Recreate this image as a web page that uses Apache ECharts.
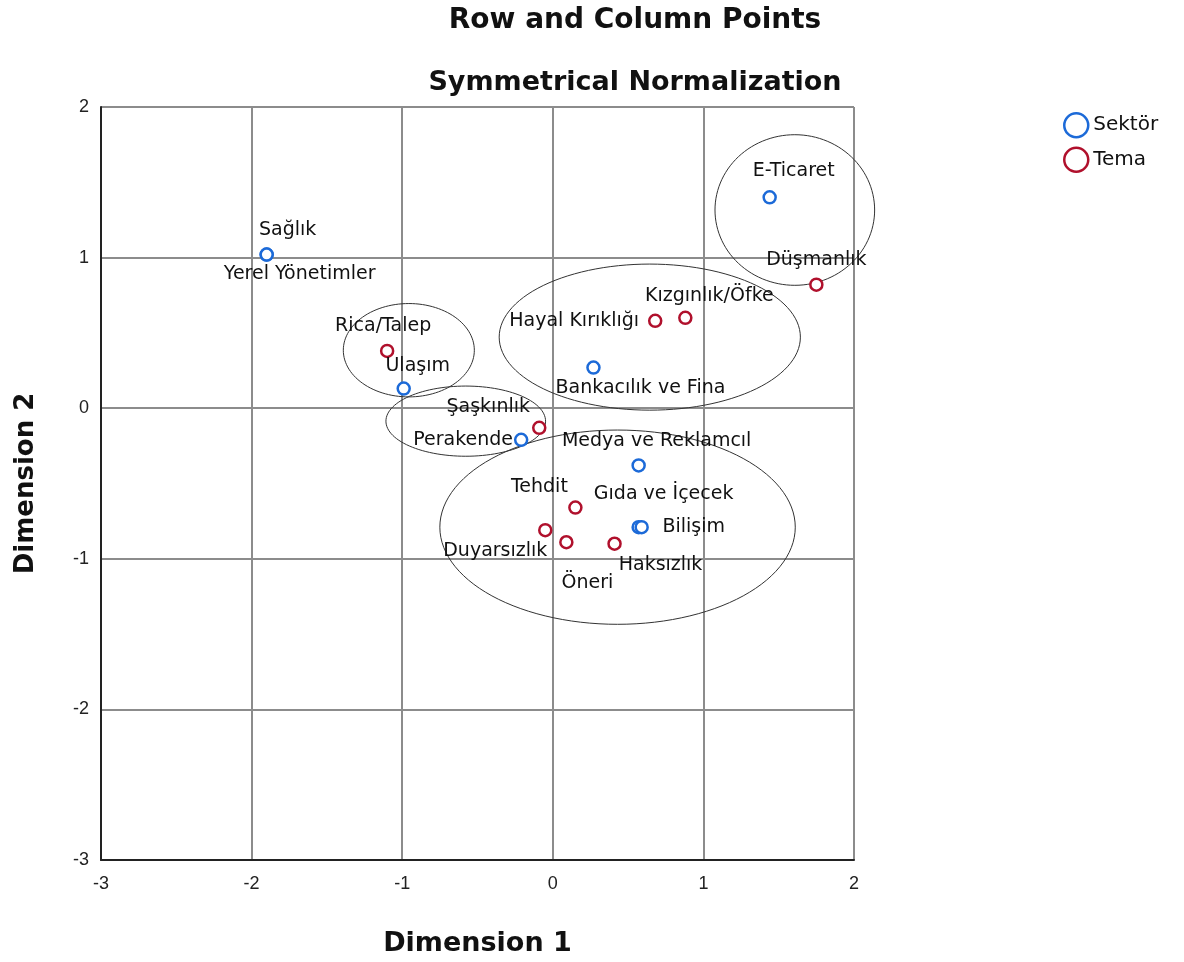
<!DOCTYPE html>
<html>
<head>
<meta charset="utf-8">
<script src="https://cdn.jsdelivr.net/npm/echarts@6/dist/echarts.min.js"></script>
<style>
  html, body { margin: 0; padding: 0; background: #fff; }
  #chart { width: 1184px; height: 962px; }
</style>
</head>
<body>
<div id="chart"></div>
<script>
// Row points (sectors)
const sektorNames = ['Sağlık', 'Yerel Yönetimler', 'Ulaşım', 'Perakende', 'E-Ticaret',
  'Bankacılık ve Fina', 'Medya ve Reklamcıl', 'Gıda ve İçecek', 'Bilişim'];
const sektorDim1 = [-1.90, -1.90, -0.99, -0.21, 1.44, 0.27, 0.57, 0.57, 0.59];
const sektorDim2 = [1.02, 1.02, 0.13, -0.21, 1.40, 0.27, -0.38, -0.79, -0.79];

// Column points (themes)
const temaNames = ['Rica/Talep', 'Şaşkınlık', 'Hayal Kırıklığı', 'Kızgınlık/Öfke', 'Düşmanlık',
  'Tehdit', 'Duyarsızlık', 'Öneri', 'Haksızlık'];
const temaDim1 = [-1.10, -0.09, 0.68, 0.88, 1.75, 0.15, -0.05, 0.09, 0.41];
const temaDim2 = [0.38, -0.13, 0.58, 0.60, 0.82, -0.66, -0.81, -0.89, -0.90];

// Axis ticks
const axisTicksX = [-3, -2, -1, 0, 1, 2];
const axisTicksY = [-3, -2, -1, 0, 1, 2];

// Hand-drawn grouping ellipses: centre and radii in dimension units
const groupCx = [-0.956, -0.578, 0.644, 1.607, 0.43];
const groupCy = [0.385, -0.086, 0.472, 1.316, -0.79];
const groupRx = [0.435, 0.53, 1.0, 0.53, 1.18];
const groupRy = [0.31, 0.233, 0.485, 0.50, 0.645];

// Label placement (pixel offsets from the marker centre)
const labelOffsets = {
  'Sağlık': [21, -25],
  'Yerel Yönetimler': [33, 19],
  'Ulaşım': [14, -23],
  'Perakende': [-58, 0],
  'E-Ticaret': [24, -26],
  'Bankacılık ve Fina': [47, 21],
  'Medya ve Reklamcıl': [18, -24],
  'Gıda ve İçecek': [25, -33],
  'Bilişim': [52, 0],
  'Rica/Talep': [-4, -25],
  'Şaşkınlık': [-51, -21],
  'Hayal Kırıklığı': [-81, 0],
  'Kızgınlık/Öfke': [24, -22],
  'Düşmanlık': [0, -25],
  'Tehdit': [-36, -21],
  'Duyarsızlık': [-50, 21],
  'Öneri': [21, 41],
  'Haksızlık': [46, 21]
};

const BLUE = '#1c6ad8';
const RED = '#b0102c';
const FONT = 'DejaVu Sans';

function pointData(names, xs, ys) {
  return names.map((n, i) => ({
    name: n,
    value: [xs[i], ys[i]],
    label: { offset: labelOffsets[n] || [0, -20] }
  }));
}

const ellipseData = groupCx.map((cx, i) => [cx, groupCy[i], groupRx[i], groupRy[i]]);

const chart = echarts.init(document.getElementById('chart'), null, { renderer: 'canvas' });

const pointLabel = {
  show: true,
  position: 'inside',
  align: 'center',
  verticalAlign: 'middle',
  formatter: '{b}',
  color: '#111',
  fontFamily: FONT,
  fontSize: 19
};

chart.setOption({
  animation: false,
  backgroundColor: '#ffffff',
  title: [
    {
      text: 'Row and Column Points',
      left: 630, top: 2, textAlign: 'center',
      textStyle: { fontFamily: FONT, fontWeight: 'bold', fontSize: 28, color: '#111' }
    },
    {
      text: 'Symmetrical Normalization',
      left: 630, top: 64, textAlign: 'center',
      textStyle: { fontFamily: FONT, fontWeight: 'bold', fontSize: 27, color: '#111' }
    }
  ],
  legend: {
    orient: 'vertical',
    left: 1058,
    top: 107,
    itemWidth: 24,
    itemHeight: 24,
    itemGap: 8,
    textStyle: { fontFamily: FONT, fontSize: 20, color: '#111' },
    data: [
      { name: 'Sektör', icon: 'circle', itemStyle: { color: '#fff', borderColor: BLUE, borderWidth: 2.5 } },
      { name: 'Tema', icon: 'circle', itemStyle: { color: '#fff', borderColor: RED, borderWidth: 2.5 } }
    ]
  },
  grid: { left: 101, right: 330, top: 107, bottom: 102, containLabel: false },
  xAxis: {
    type: 'value',
    min: axisTicksX[0],
    max: axisTicksX[axisTicksX.length - 1],
    interval: 1,
    name: 'Dimension 1',
    nameLocation: 'middle',
    nameGap: 70,
    nameTextStyle: { fontFamily: FONT, fontWeight: 'bold', fontSize: 27, color: '#111' },
    axisLine: { onZero: false, lineStyle: { color: '#222', width: 2 } },
    axisTick: { show: false },
    axisLabel: { fontFamily: 'Liberation Sans', fontSize: 18, color: '#222', margin: 15 },
    splitLine: { show: true, lineStyle: { color: '#8c8c8c', width: 2 } }
  },
  yAxis: {
    type: 'value',
    min: axisTicksY[0],
    max: axisTicksY[axisTicksY.length - 1],
    interval: 1,
    name: 'Dimension 2',
    nameLocation: 'middle',
    nameGap: 62,
    nameTextStyle: { fontFamily: FONT, fontWeight: 'bold', fontSize: 26, color: '#111' },
    axisLine: { onZero: false, lineStyle: { color: '#222', width: 2 } },
    axisTick: { show: false },
    axisLabel: { fontFamily: 'Liberation Sans', fontSize: 18, color: '#222', margin: 12 },
    splitLine: { show: true, lineStyle: { color: '#8c8c8c', width: 2 } }
  },
  series: [
    {
      type: 'custom',
      name: 'groups',
      silent: true,
      clip: false,
      z: 1,
      data: ellipseData,
      renderItem: function (params, api) {
        const cx = api.value(0), cy = api.value(1), rx = api.value(2), ry = api.value(3);
        const pts = [];
        for (let k = 0; k < 120; k++) {
          const t = (k / 120) * Math.PI * 2;
          pts.push(api.coord([cx + rx * Math.cos(t), cy + ry * Math.sin(t)]));
        }
        return {
          type: 'polygon',
          shape: { points: pts },
          style: { fill: 'none', stroke: '#333', lineWidth: 1 }
        };
      }
    },
    {
      type: 'scatter',
      name: 'Sektör',
      z: 3,
      symbol: 'circle',
      symbolSize: 12,
      itemStyle: { color: '#fff', borderColor: BLUE, borderWidth: 2.5, opacity: 1 },
      label: pointLabel,
      data: pointData(sektorNames, sektorDim1, sektorDim2)
    },
    {
      type: 'scatter',
      name: 'Tema',
      z: 3,
      symbol: 'circle',
      symbolSize: 12,
      itemStyle: { color: '#fff', borderColor: RED, borderWidth: 2.5, opacity: 1 },
      label: pointLabel,
      data: pointData(temaNames, temaDim1, temaDim2)
    }
  ]
});
</script>
</body>
</html>
